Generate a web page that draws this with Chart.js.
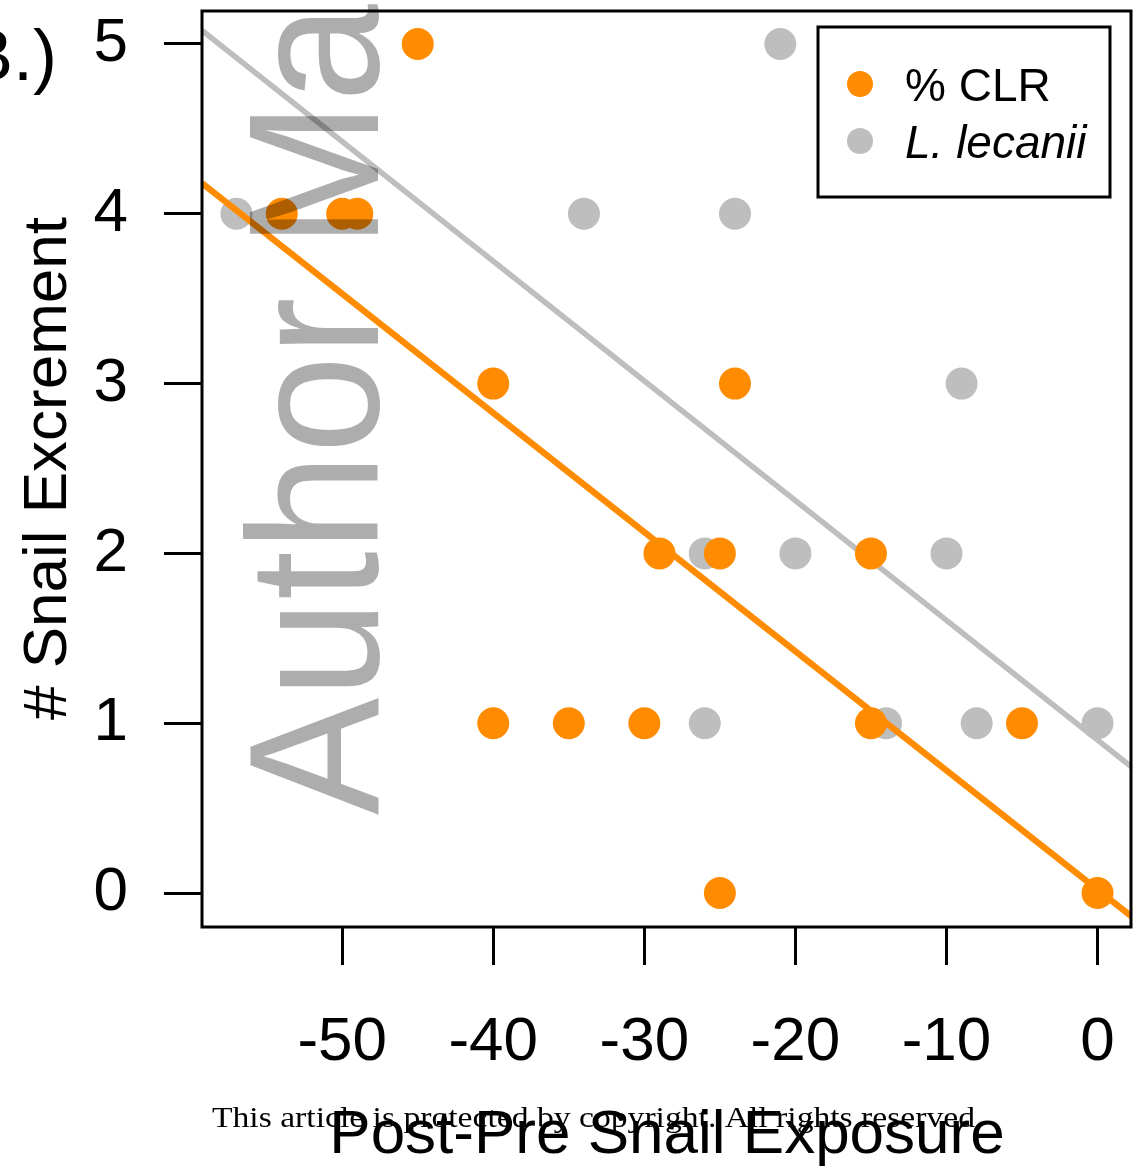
<!DOCTYPE html>
<html>
<head>
<meta charset="utf-8">
<script src="https://cdn.jsdelivr.net/npm/chart.js@4.4.1/dist/chart.umd.min.js"></script>
<style>
  html, body { margin: 0; padding: 0; background: #fff; }
  #wrap { width: 1134px; height: 1176px; }
</style>
</head>
<body>
<div id="wrap"><canvas id="chart" width="1134" height="1176"></canvas></div>
<script>
// % CLR points
const clrX = [-45, -54, -50, -49, -40, -24, -29, -25, -15, -40, -35, -30, -15, -5, -25, 0];
const clrY = [5, 4, 4, 4, 3, 3, 2, 2, 2, 1, 1, 1, 1, 1, 0, 0];
// L. lecanii points
const lecX = [-21, -57, -34, -24, -9, -26, -20, -10, -26, -14, -8, 0];
const lecY = [5, 4, 4, 4, 3, 2, 2, 2, 1, 1, 1, 1];
// fitted lines, read at the left and right edge of the plot
const fitX = [-59.28, 2.28];
const clrFit = [4.18, -0.14];
const lecFit = [5.08, 0.74];
const xTicks = [-50, -40, -30, -20, -10, 0];
const yTicks = [0, 1, 2, 3, 4, 5];
const xRange = [-59.28, 2.28];
const yRange = [-0.2, 5.2];
const seriesNames = ['% CLR', 'L. lecanii'];

const ORANGE = '#ff8c00', GREY = '#bebebe';
const SANS = "'Liberation Sans', Arial, sans-serif";
const pts = (xs, ys) => xs.map((x, i) => ({x: x, y: ys[i]}));
const noPad = s => { s.paddingTop = s.paddingBottom = s.paddingLeft = s.paddingRight = 0; };

const frame = {
  id: 'frame',
  afterDatasetsDraw(chart) {
    const {ctx, chartArea: a} = chart;
    ctx.save();
    ctx.strokeStyle = '#000'; ctx.lineWidth = 3;
    ctx.strokeRect(a.left, a.top + 1, a.right - a.left - 1, a.bottom - a.top - 1);
    ctx.restore();
  }
};

const extras = {
  id: 'extras',
  afterDraw(chart) {
    const {ctx, chartArea: a} = chart;
    ctx.save();
    // legend
    const bx = a.right - 314, by = a.top + 17;
    ctx.strokeStyle = '#000'; ctx.lineWidth = 3;
    ctx.strokeRect(bx, by, 292, 170);
    [ORANGE, GREY].forEach((c, i) => {
      const cy = by + 57 + i * 57;
      ctx.fillStyle = c;
      ctx.beginPath(); ctx.arc(bx + 42, cy, 13, 0, Math.PI * 2); ctx.fill();
      ctx.fillStyle = '#000';
      ctx.font = (i ? 'italic ' : '') + '46px ' + SANS;
      ctx.textBaseline = 'alphabetic';
      ctx.fillText(seriesNames[i], bx + 87, cy + 17);
    });
    // panel label
    ctx.fillStyle = '#000';
    ctx.font = '72px ' + SANS;
    ctx.textAlign = 'right';
    ctx.fillText('B.)', 57, 80);
    // watermark
    ctx.save();
    ctx.translate(378, 815);
    ctx.rotate(-Math.PI / 2);
    ctx.scale(0.95, 1);
    ctx.textAlign = 'left';
    ctx.fillStyle = 'rgba(0,0,0,0.32)';
    ctx.font = '185px ' + SANS;
    ctx.fillText('Author Manuscript', 0, 0);
    ctx.restore();
    // copyright line, stretched to the width it has in the source
    const note = 'This article is protected by copyright. All rights reserved';
    ctx.fillStyle = '#000';
    ctx.textAlign = 'left';
    ctx.font = "30px 'Liberation Serif', 'DejaVu Serif', serif";
    const w = ctx.measureText(note).width;
    ctx.translate(212, 1127);
    ctx.scale(763 / w, 1);
    ctx.fillText(note, 0, 0);
    ctx.restore();
  }
};

new Chart(document.getElementById('chart'), {
  type: 'scatter',
  data: {
    datasets: [
      {label: seriesNames[0] + ' fit', data: pts(fitX, clrFit), showLine: true, borderColor: ORANGE, borderWidth: 6.5, pointRadius: 0, order: 1},
      {label: seriesNames[0], data: pts(clrX, clrY), backgroundColor: ORANGE, borderWidth: 0, pointRadius: 16, order: 2},
      {label: seriesNames[1] + ' fit', data: pts(fitX, lecFit), showLine: true, borderColor: GREY, borderWidth: 5.5, pointRadius: 0, order: 3},
      {label: seriesNames[1], data: pts(lecX, lecY), backgroundColor: GREY, borderWidth: 0, pointRadius: 16, order: 4}
    ]
  },
  options: {
    responsive: false,
    animation: false,
    devicePixelRatio: 1,
    layout: {autoPadding: false, padding: {top: 10, right: 2, left: 0, bottom: 0}},
    plugins: {legend: {display: false}, tooltip: {enabled: false}},
    elements: {point: {hoverRadius: 16}},
    scales: {
      x: {
        type: 'linear', min: xRange[0], max: xRange[1],
        afterBuildTicks: s => { s.ticks = xTicks.map(v => ({value: v})); },
        afterFit: s => { s.height = 249; noPad(s); },
        border: {display: false},
        grid: {drawOnChartArea: false, drawTicks: true, tickLength: 38, tickWidth: 3, tickColor: '#000'},
        ticks: {color: '#000', font: {family: SANS, size: 62}, padding: 41, maxRotation: 0, autoSkip: false},
        title: {display: true, text: 'Post-Pre Snail Exposure', color: '#000', font: {family: SANS, size: 62}, padding: {top: 0, bottom: 3}}
      },
      y: {
        type: 'linear', min: yRange[0], max: yRange[1],
        afterBuildTicks: s => { s.ticks = yTicks.map(v => ({value: v})); },
        afterFit: s => { s.width = 202; noPad(s); },
        border: {display: false},
        grid: {drawOnChartArea: false, drawTicks: true, tickLength: 38, tickWidth: 3, tickColor: '#000'},
        ticks: {color: '#000', font: {family: SANS, size: 62}, padding: 36, autoSkip: false},
        title: {display: true, text: '# Snail Excrement', color: '#000', font: {family: SANS, size: 62}, padding: {top: 12, bottom: 0}}
      }
    }
  },
  plugins: [frame, extras]
});
</script>
</body>
</html>
